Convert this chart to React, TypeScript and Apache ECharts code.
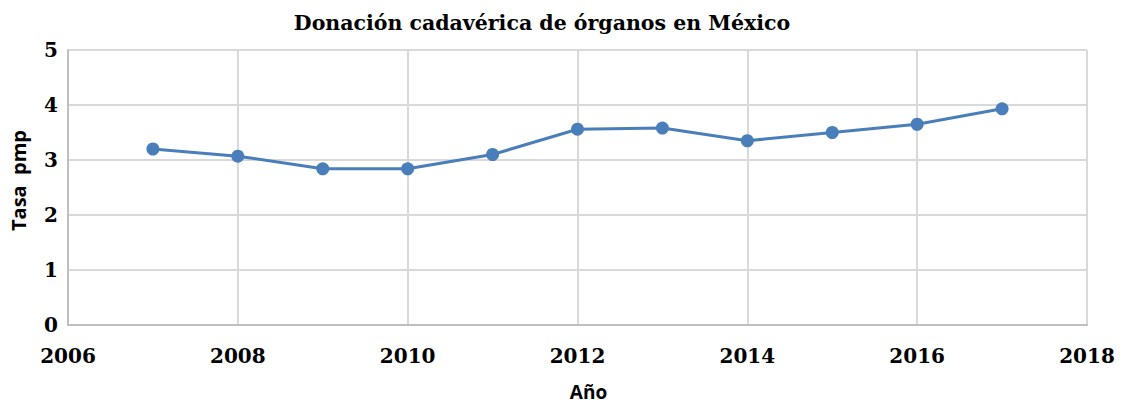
import React, { useEffect, useRef } from "react";
import * as echarts from "echarts";

const years = [2007, 2008, 2009, 2010, 2011, 2012, 2013, 2014, 2015, 2016, 2017];
const rates = [3.2, 3.07, 2.84, 2.84, 3.1, 3.56, 3.58, 3.35, 3.5, 3.65, 3.93];

const titleText = "Donación cadavérica de órganos en México";
const xName = "Año";
const yName = "Tasa  pmp";

export default function App() {
  const ref = useRef<HTMLDivElement>(null);
  useEffect(() => {
    const chart = echarts.init(ref.current!, null, { renderer: "svg" });
    const serif = "'DejaVu Serif', serif";
    const sans = "'Open Sans', sans-serif";
    chart.setOption({
      animation: false,
      backgroundColor: "#ffffff",
      title: {
        text: titleText,
        left: 537,
        textAlign: "center",
        top: 7,
        textStyle: { fontFamily: serif, fontWeight: "bold", fontSize: 20.5, color: "#000" },
      },
      grid: { left: 68, right: 36, top: 50, bottom: 78, outerBoundsMode: "none", containLabel: false },
      xAxis: {
        type: "value",
        min: 2006,
        max: 2018,
        interval: 2,
        name: xName,
        nameLocation: "middle",
        nameGap: 57,
        nameTextStyle: { fontFamily: sans, fontWeight: "bold", fontSize: 19, color: "#000", padding: [0, 0, 0, 22] },
        axisLine: { show: true, lineStyle: { color: "#bfbfbf", width: 2 } },
        axisTick: { show: false },
        axisLabel: {
          margin: 21,
          fontFamily: serif,
          fontWeight: "bold",
          fontSize: 20,
          color: "#000",
          showMinLabel: true,
          showMaxLabel: true,
          formatter: (v: number) => String(v),
        },
        splitLine: { show: true, lineStyle: { color: "#d9d9d9", width: 2 } },
      },
      yAxis: {
        type: "value",
        min: 0,
        max: 5,
        interval: 1,
        name: yName,
        nameLocation: "middle",
        nameGap: 40,
        nameTextStyle: { fontFamily: sans, fontWeight: "bold", fontSize: 20, color: "#000", padding: [0, 0, 0, 14] },
        axisLine: { show: true, lineStyle: { color: "#bfbfbf", width: 2 } },
        axisTick: { show: false },
        axisLabel: {
          margin: 10,
          fontFamily: serif,
          fontWeight: "bold",
          fontSize: 20,
          color: "#000",
        },
        splitLine: { show: true, lineStyle: { color: "#d9d9d9", width: 2 } },
      },
      series: [
        {
          type: "line",
          data: years.map((y, i) => [y, rates[i]]),
          symbol: "circle",
          symbolSize: 13,
          lineStyle: { color: "#4a7ebb", width: 3 },
          itemStyle: { color: "#4a7ebb" },
        },
      ],
    });
    return () => chart.dispose();
  }, []);
  return <div ref={ref} style={{ width: 1123, height: 403, position: "absolute", left: 0, top: 0 }} />;
}
